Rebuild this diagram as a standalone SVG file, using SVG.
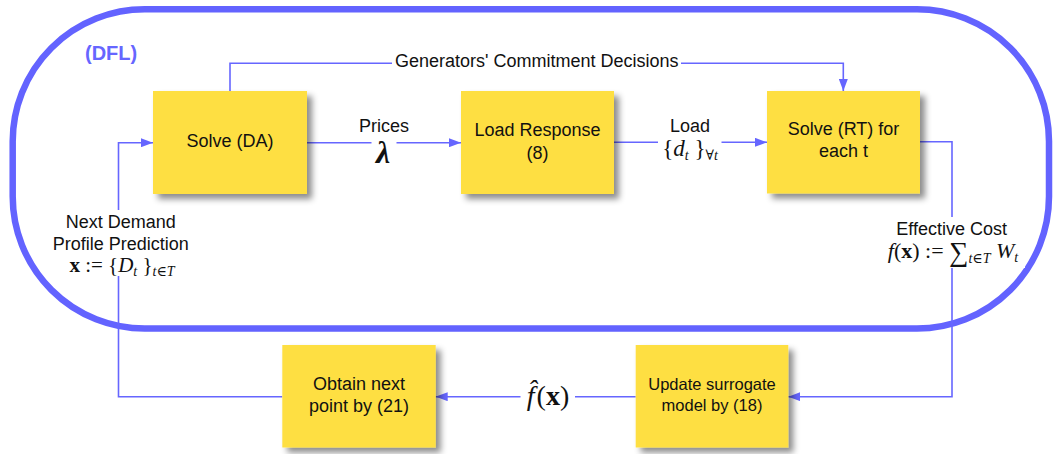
<svg xmlns="http://www.w3.org/2000/svg" width="1053" height="454" viewBox="0 0 1053 454">
  <defs>
    <filter id="shadow" x="-20%" y="-20%" width="150%" height="150%">
      <feDropShadow dx="5" dy="5" stdDeviation="3" flood-color="#000" flood-opacity="0.45"/>
    </filter>
    <marker id="arrow" viewBox="0 0 12 9" refX="12" refY="4.5" markerWidth="12" markerHeight="9" markerUnits="userSpaceOnUse" orient="auto">
      <path d="M0,0 L12,4.5 L0,9 z" fill="#6666ff"/>
    </marker>
    <style>
      .box { fill: #fedf43; filter: url(#shadow); }
      .lbl { font-family: "Liberation Sans", Arial, sans-serif; font-size: 18px; fill: #111; text-anchor: middle; }
      .small { font-size: 16.5px; }
      .math { font-family: "Liberation Serif", "DejaVu Serif", serif; font-size: 22px; fill: #111; text-anchor: middle; }
      .it { font-style: italic; }
      .bf { font-weight: bold; }
      .sub { font-size: 14px; font-style: italic; }
      .edge { fill: none; stroke: #6666ff; stroke-width: 1.6; }
      .bg { fill: #fff; }
    </style>
  </defs>

  <rect width="1053" height="454" fill="#fff"/>

  <!-- DFL loop boundary -->
  <g id="dfl-frame">
    <rect x="12.7" y="9.3" width="1036.3" height="319.2" rx="132" ry="132" fill="none" stroke="#6363ff" stroke-width="6.5"/>
    <text x="85" y="60" font-family="Liberation Sans, Arial, sans-serif" font-size="20" font-weight="bold" fill="#6666ff">(DFL)</text>
  </g>

  <!-- connectors -->
  <g id="connectors">
    <path class="edge" d="M230,91 V63.3 H843.3 V91" marker-end="url(#arrow)"/>
    <path class="edge" d="M307,142.7 H461" marker-end="url(#arrow)"/>
    <path class="edge" d="M614,142.3 H767" marker-end="url(#arrow)"/>
    <path class="edge" d="M920,141.7 H952 V396.7 H788.3" marker-end="url(#arrow)"/>
    <path class="edge" d="M635.7,396.7 H435.7" marker-end="url(#arrow)"/>
    <path class="edge" d="M282.3,396.7 H118.5 V142.7 H153" marker-end="url(#arrow)"/>
  </g>

  <!-- connector labels -->
  <g id="edge-labels">
    <rect class="bg" x="392" y="52" width="289" height="20"/>
    <text class="lbl" x="536.7" y="67">Generators' Commitment Decisions</text>

    <text class="lbl" x="384" y="132">Prices</text>
    <rect class="bg" x="371.5" y="136" width="25" height="30"/>
    <text class="math bf it" x="383" y="163" style="font-size:32px">λ</text>

    <text class="lbl" x="690" y="132">Load</text>
    <rect class="bg" x="658" y="135" width="63.5" height="28"/>
    <text class="math" x="690" y="156" style="font-size:23px">{<tspan class="it">d</tspan><tspan class="sub" dy="4">t</tspan><tspan dy="-4"> }</tspan><tspan class="sub" dy="4" font-style="normal">∀<tspan class="it">t</tspan></tspan></text>

    <rect class="bg" x="885" y="217" width="140" height="51"/>
    <text class="lbl" x="951.7" y="235">Effective Cost</text>
    <text class="math" x="953" y="258"><tspan class="it">f</tspan>(<tspan class="bf">x</tspan>) := <tspan font-size="27" dy="3">∑</tspan><tspan class="sub" dy="2">t∈<tspan class="it">T</tspan></tspan><tspan dy="-5"> </tspan><tspan class="it">W</tspan><tspan class="sub" dy="4">t</tspan></text>

    <rect class="bg" x="60" y="210" width="124" height="66"/>
    <text class="lbl" x="120.7" y="228">Next Demand</text>
    <text class="lbl" x="120.7" y="250">Profile Prediction</text>
    <text class="math" x="122" y="272" style="font-size:21px"><tspan class="bf">x</tspan> := {<tspan class="it">D</tspan><tspan class="sub" dy="4">t</tspan><tspan dy="-4"> }</tspan><tspan class="sub" dy="4">t∈T</tspan></text>

    <rect class="bg" x="520.5" y="378" width="54.5" height="38"/>
    <text class="math" x="548" y="405" style="font-size:28px"><tspan class="it">f̂</tspan><tspan dx="2">(</tspan><tspan class="bf">x</tspan>)</text>
  </g>

  <!-- process nodes -->
  <g id="solve-da">
    <rect class="box" x="153" y="91" width="154" height="103"/>
    <text class="lbl" x="230" y="147">Solve (DA)</text>
  </g>

  <g id="load-response">
    <rect class="box" x="461" y="91" width="153" height="103"/>
    <text class="lbl" x="537.5" y="136">Load Response</text>
    <text class="lbl" x="537.5" y="158.5">(8)</text>
  </g>

  <g id="solve-rt">
    <rect class="box" x="767" y="91" width="153" height="102.5"/>
    <text class="lbl" x="843.5" y="135">Solve (RT) for</text>
    <text class="lbl" x="843.5" y="157">each t</text>
  </g>

  <g id="update-surrogate">
    <rect class="box" x="635.7" y="345" width="152.6" height="102.5"/>
    <text class="lbl small" x="712" y="390">Update surrogate</text>
    <text class="lbl small" x="712" y="411">model by (18)</text>
  </g>

  <g id="obtain-next">
    <rect class="box" x="282.3" y="345" width="153.4" height="102.5"/>
    <text class="lbl" x="359" y="389.5">Obtain next</text>
    <text class="lbl" x="359" y="412">point by (21)</text>
  </g>
</svg>
